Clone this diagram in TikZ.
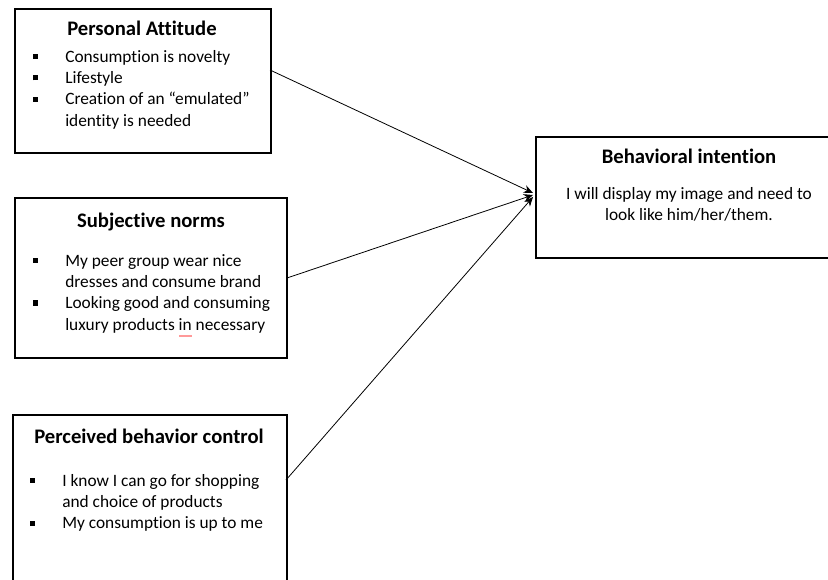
\documentclass[tikz,border=0pt]{standalone}
\usepackage{fontspec}
\setmainfont[Ligatures={TeX,NoCommon}]{Carlito}
\usetikzlibrary{arrows.meta}
\newcommand{\bul}{\makebox[24pt][l]{\raisebox{2.5pt}{\rule{3.8pt}{3.8pt}}}}
\newcommand{\hind}{\hspace*{24pt}}
\tikzset{
  box/.style={draw, line width=1.2pt, anchor=north west, inner sep=0pt},
  ttl/.style={font=\fontsize{15.5}{18}\selectfont\bfseries, anchor=base, inner sep=0pt},
  body/.style={font=\fontsize{13}{16}\selectfont, align=left, anchor=north west, inner sep=0pt},
  conn/.style={line width=0.6pt, -{Stealth[length=7pt,width=6pt]}},
}
\begin{document}
\begin{tikzpicture}[x=0.75pt,y=-0.75pt]
\useasboundingbox (0,0) rectangle (828,580);
% boxes
\node[box, minimum width=192pt, minimum height=108pt] (b1) at (14,8) {};
\node[box, minimum width=204pt, minimum height=120pt] (b2) at (14,197) {};
\node[box, minimum width=205.5pt, minimum height=139.5pt] (b3) at (12,414) {};
\node[box, minimum width=225pt, minimum height=90.75pt] (b4) at (535,136) {};
% titles
\node[ttl] (t1) at (142,36) {Personal Attitude};
\node[ttl] (t2) at (151,228) {Subjective norms};
\node[ttl] (t3) at (149,444) {Perceived behavior control};
\node[ttl] (t4) at (689,164) {Behavioral intention};
% bodies
\node[body] (x1) at (33,50) {\bul Consumption is novelty\\ \bul Lifestyle\\ \bul Creation of an “emulated”\\ \hind identity is needed};
\node[body] (x2) at (33,254) {\bul My peer group wear nice\\ \hind dresses and consume brand\\ \bul Looking good and consuming\\ \hind luxury products in necessary};
\node[body] (x3) at (30,474) {\bul I know I can go for shopping\\ \hind and choice of products\\ \bul My consumption is up to me};
\node[body, align=center, anchor=north] (x4) at (689,187) {I will display my image and need to\\ look like him/her/them.};
% spell-check mark
\draw[line width=1.5pt, pink!80!red] (179,336) -- (192,336);
% connectors
\coordinate (s1) at (270,70);
\coordinate (s3) at (286,480);
\coordinate (e1) at (533,193);
\coordinate (e2) at (533,195);
\coordinate (e3) at (533,197);
\draw[conn] (s1) -- (e1);
\draw[conn] (b2.east) -- (e2);
\draw[conn] (s3) -- (e3);
\end{tikzpicture}
\end{document}
